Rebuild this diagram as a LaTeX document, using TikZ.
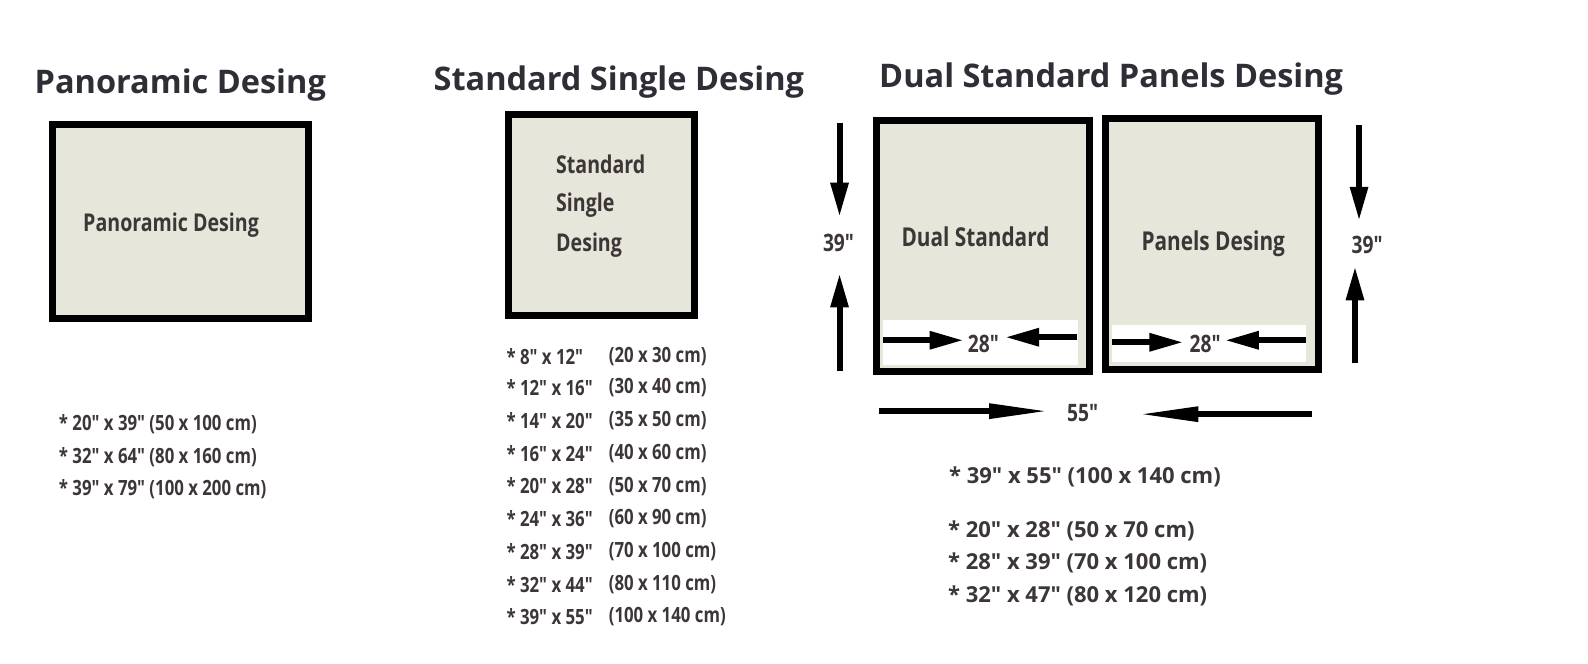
\documentclass[tikz,border=0pt]{standalone}
\usepackage{fontspec}
\usetikzlibrary{arrows.meta}
\setmainfont{Open Sans}
\newfontfamily\titlefont{Open Sans}[UprightFont=* Bold]
\newfontfamily\condfont{Open Sans}[UprightFont=* Bold,FakeStretch=0.8]
\newfontfamily\listfont{Open Sans}[UprightFont=* Bold]
\definecolor{panel}{HTML}{E6E6DA}
\definecolor{ttl}{HTML}{2E2E36}
\definecolor{txt}{HTML}{3D3636}
\begin{document}
\begin{tikzpicture}[x=1.0127pt,y=-1.0127pt,
  ttlstyle/.style={font=\titlefont\fontsize{32.5}{36}\selectfont,text=ttl,inner sep=0,anchor=west},
  panelbox/.style={draw=black,line width=7pt,fill=panel},
  intext/.style={font=\condfont\fontsize{24.5}{29}\selectfont,text=txt,inner sep=0,anchor=west},
  intextb/.style={font=\condfont\fontsize{26}{29}\selectfont,text=txt,inner sep=0,anchor=west},
  smalllist/.style={font=\condfont\fontsize{21}{24}\selectfont,text=txt,inner sep=0,anchor=west},
  duallist/.style={font=\listfont\fontsize{22}{26}\selectfont,text=txt,inner sep=0,anchor=west},
  dimlabel/.style={font=\condfont\fontsize{24}{27}\selectfont,text=txt,inner sep=0},
  dimarrow/.style={line width=6pt,-{Triangle[length=34pt,width=17pt]}},
  longarrow/.style={line width=6pt,-{Triangle[length=60pt,width=14pt]}}]
\useasboundingbox (0,0) rectangle (1568.1,654.7);
\fill[white] (0,0) rectangle (1568.1,654.7);

% titles
\node[ttlstyle] (t1) at (34,84) {Panoramic Desing};
\node[ttlstyle] (t2) at (428,81) {Standard Single Desing};
\node[ttlstyle] (t3) at (868,78) {Dual Standard Panels Desing};

% panoramic box
\draw[panelbox] (51.5,122.5) rectangle (304.5,314.5);
\node[intext] (p1) at (82,222) {Panoramic Desing};

% standard single box
\draw[panelbox] (502.5,113.5) rectangle (685.5,311.5);
\node[intext] (s1) at (549,162) {Standard};
\node[intext] (s2) at (549,203) {Single};
\node[intext] (s3) at (549,242) {Desing};

% dual boxes
\draw[panelbox] (865.5,118.5) rectangle (1075.5,366.5);
\draw[panelbox] (1091.5,117.5) rectangle (1301.5,364.5);
\node[intextb] (d1t) at (890,234) {Dual Standard};
\node[intextb] (d2t) at (1127,241) {Panels Desing};
\fill[white] (872,316) rectangle (1064,360);
\fill[white] (1098,321) rectangle (1290,357);
\node[dimlabel] (w1) at (971,340) {28"};
\node[dimlabel] (w2) at (1190,340) {28"};
\coordinate (w1a) at (872,336);
\coordinate (w1b) at (1063,333);
\coordinate (w2a) at (1098,338);
\coordinate (w2b) at (1290,336);
\draw[dimarrow] (w1a) -- ([xshift=-4pt]w1.west |- w1a);
\draw[dimarrow] (w1b) -- ([xshift=6pt]w1.east |- w1b);
\draw[dimarrow] (w2a) -- ([xshift=-6pt]w2.west |- w2a);
\draw[dimarrow] (w2b) -- ([xshift=4pt]w2.east |- w2b);

% left height
\node[dimlabel] (h1) at (828,240) {39"};
\coordinate (h1a) at (829,121);
\coordinate (h1b) at (829,366);
\draw[dimarrow] (h1a) -- (829,214);
\draw[dimarrow] (h1b) -- (829,270);

% right height
\node[dimlabel] (h2) at (1350,242) {39"};
\coordinate (h2a) at (1342,123);
\coordinate (h2b) at (1338,358);
\draw[dimarrow] (h2a) -- (1342,218);
\draw[dimarrow] (h2b) -- (1338,263);

% total width
\node[dimlabel] (tw) at (1069,408) {55"};
\coordinate (twa) at (868,406);
\coordinate (twb) at (1296,409);
\draw[longarrow] (twa) -- (1036,406);
\draw[longarrow] (twb) -- (1124,409);

% panoramic list
\node[smalllist] (pl1) at (58,419) {* 20" x 39" (50 x 100 cm)};
\node[smalllist] (pl2) at (58,451) {* 32" x 64" (80 x 160 cm)};
\node[smalllist] (pl3) at (58,483) {* 39" x 79" (100 x 200 cm)};

% standard list
\foreach \a/\b/\y [count=\i] in {{8" x 12"}/{(20 x 30 cm)}/352,
  {12" x 16"}/{(30 x 40 cm)}/383,
  {14" x 20"}/{(35 x 50 cm)}/415,
  {16" x 24"}/{(40 x 60 cm)}/448,
  {20" x 28"}/{(50 x 70 cm)}/480,
  {24" x 36"}/{(60 x 90 cm)}/512,
  {28" x 39"}/{(70 x 100 cm)}/545,
  {32" x 44"}/{(80 x 110 cm)}/577,
  {39" x 55"}/{(100 x 140 cm)}/609}{
  \node[smalllist] (sa\i) at (500,\y) {* \a};
  \node[smalllist] (sb\i) at (601,\y) {\b};
}

% dual list
\node[duallist] (d1) at (937,471) {* 39" x 55" (100 x 140 cm)};
\node[duallist] (d2) at (936,524) {* 20" x 28" (50 x 70 cm)};
\node[duallist] (d3) at (936,556) {* 28" x 39" (70 x 100 cm)};
\node[duallist] (d4) at (936,588) {* 32" x 47" (80 x 120 cm)};
\end{tikzpicture}
\end{document}
